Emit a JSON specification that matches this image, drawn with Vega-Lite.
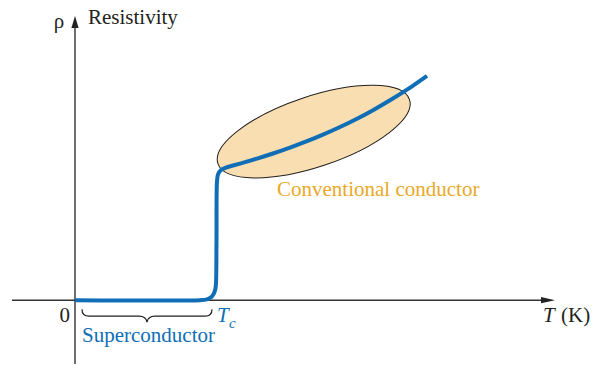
{
  "$schema": "https://vega.github.io/schema/vega-lite/v6.json",
  "width": 592,
  "height": 365,
  "autosize": {"type": "fit", "contains": "padding"},
  "padding": 0,
  "background": "white",
  "config": {"view": {"stroke": null}},
  "encoding": {
    "x": {"field": "T", "type": "quantitative", "scale": {"domain": [-75, 517], "nice": false, "zero": false}, "axis": null},
    "y": {"field": "rho", "type": "quantitative", "scale": {"domain": [-64, 301], "nice": false, "zero": false}, "axis": null}
  },
  "layer": [
    {
      "data": {"values": [
        {"T": -63, "T2": 470, "rho": 0, "rho2": 0},
        {"T": 0, "T2": 0, "rho": -64, "rho2": 276}
      ]},
      "mark": {"type": "rule", "stroke": "#333333", "strokeWidth": 1.4},
      "encoding": {"x2": {"field": "T2"}, "y2": {"field": "rho2"}}
    },
    {
      "data": {"values": [{"T": 473, "rho": 0}]},
      "mark": {"type": "point", "filled": true, "color": "#222222", "opacity": 1, "size": 196, "shape": "M 1 0 L -1 -0.45 L -1 0.45 Z"}
    },
    {
      "data": {"values": [{"T": 0, "rho": 279}]},
      "mark": {"type": "point", "filled": true, "color": "#222222", "opacity": 1, "size": 144, "shape": "M 0 -1 L 0.6 1 L -0.6 1 Z"}
    },
    {
      "data": {"values": [{"T": 238.7, "rho": 169}]},
      "mark": {"type": "point", "filled": true, "fill": "#f8deb0", "stroke": "#231f20", "strokeWidth": 1, "opacity": 1, "fillOpacity": 1, "size": 40804, "angle": 341.5,
        "shape": "M -1 0 C -1 -0.193 -0.552 -0.349 0 -0.349 C 0.552 -0.349 1 -0.193 1 0 C 1 0.193 0.552 0.349 0 0.349 C -0.552 0.349 -1 0.193 -1 0 Z"}
    },
    {
      "data": {"values": [
        {"i": 0, "T": 0, "rho": 0},
        {"i": 1, "T": 125, "rho": 0},
        {"i": 2, "T": 131, "rho": 0.5},
        {"i": 3, "T": 135.5, "rho": 2.5},
        {"i": 4, "T": 138.5, "rho": 6},
        {"i": 5, "T": 140.3, "rho": 11},
        {"i": 6, "T": 141, "rho": 17},
        {"i": 7, "T": 141.5, "rho": 61},
        {"i": 8, "T": 142, "rho": 119},
        {"i": 9, "T": 143, "rho": 126},
        {"i": 10, "T": 146, "rho": 130.5},
        {"i": 11, "T": 151, "rho": 133},
        {"i": 12, "T": 158, "rho": 135},
        {"i": 13, "T": 170, "rho": 138.4},
        {"i": 14, "T": 182, "rho": 142},
        {"i": 15, "T": 198, "rho": 147.1},
        {"i": 16, "T": 215, "rho": 153},
        {"i": 17, "T": 232, "rho": 159.4},
        {"i": 18, "T": 248, "rho": 166},
        {"i": 19, "T": 265, "rho": 173.6},
        {"i": 20, "T": 282, "rho": 181.9},
        {"i": 21, "T": 298, "rho": 190.5},
        {"i": 22, "T": 315, "rho": 200.4},
        {"i": 23, "T": 332, "rho": 211.1},
        {"i": 24, "T": 352, "rho": 225}
      ]},
      "mark": {"type": "line", "color": "#0f6eb6", "strokeWidth": 4, "interpolate": "catmull-rom", "strokeCap": "butt", "strokeJoin": "round"},
      "encoding": {"order": {"field": "i", "type": "quantitative"}}
    },
    {
      "data": {"values": [{"T": 72, "rho": -15}]},
      "mark": {"type": "point", "filled": false, "stroke": "#231f20", "strokeWidth": 1.2, "opacity": 1, "size": 16900,
        "shape": "M -1 -0.092 Q -1 0.015 -0.892 0.015 L -0.123 0.015 Q -0.015 0.015 0 0.108 Q 0.015 0.015 0.123 0.015 L 0.892 0.015 Q 1 0.015 1 -0.092"}
    },
    {
      "data": {"values": [
        {"T": 13, "rho": 277, "label": "Resistivity"},
        {"T": 486, "rho": -22, "label": "(K)"}
      ]},
      "mark": {"type": "text", "font": "Liberation Serif", "fontSize": 21, "color": "#231f20", "align": "left", "baseline": "alphabetic"},
      "encoding": {"text": {"field": "label"}}
    },
    {
      "data": {"values": [
        {"T": -16, "rho": 273, "label": "ρ"}
      ]},
      "mark": {"type": "text", "font": "Liberation Serif", "fontSize": 21, "color": "#231f20", "align": "center", "baseline": "alphabetic"},
      "encoding": {"text": {"field": "label"}}
    },
    {
      "data": {"values": [
        {"T": -5, "rho": -22, "label": "0"}
      ]},
      "mark": {"type": "text", "font": "Liberation Serif", "fontSize": 21, "color": "#231f20", "align": "right", "baseline": "alphabetic"},
      "encoding": {"text": {"field": "label"}}
    },
    {
      "data": {"values": [
        {"T": 468, "rho": -22, "label": "T"}
      ]},
      "mark": {"type": "text", "font": "Liberation Serif", "fontSize": 21, "fontStyle": "italic", "color": "#231f20", "align": "left", "baseline": "alphabetic"},
      "encoding": {"text": {"field": "label"}}
    },
    {
      "data": {"values": [
        {"T": 7, "rho": -42, "label": "Superconductor"}
      ]},
      "mark": {"type": "text", "font": "Liberation Serif", "fontSize": 21, "color": "#0f6eb6", "align": "left", "baseline": "alphabetic"},
      "encoding": {"text": {"field": "label"}}
    },
    {
      "data": {"values": [
        {"T": 142, "rho": -22, "label": "T"}
      ]},
      "mark": {"type": "text", "font": "Liberation Serif", "fontSize": 21, "fontStyle": "italic", "color": "#0f6eb6", "align": "left", "baseline": "alphabetic"},
      "encoding": {"text": {"field": "label"}}
    },
    {
      "data": {"values": [
        {"T": 154, "rho": -28, "label": "c"}
      ]},
      "mark": {"type": "text", "font": "Liberation Serif", "fontSize": 15, "fontStyle": "italic", "color": "#0f6eb6", "align": "left", "baseline": "alphabetic"},
      "encoding": {"text": {"field": "label"}}
    },
    {
      "data": {"values": [
        {"T": 202, "rho": 104, "label": "Conventional conductor"}
      ]},
      "mark": {"type": "text", "font": "Liberation Serif", "fontSize": 21, "color": "#eaa928", "align": "left", "baseline": "alphabetic"},
      "encoding": {"text": {"field": "label"}}
    }
  ]
}
